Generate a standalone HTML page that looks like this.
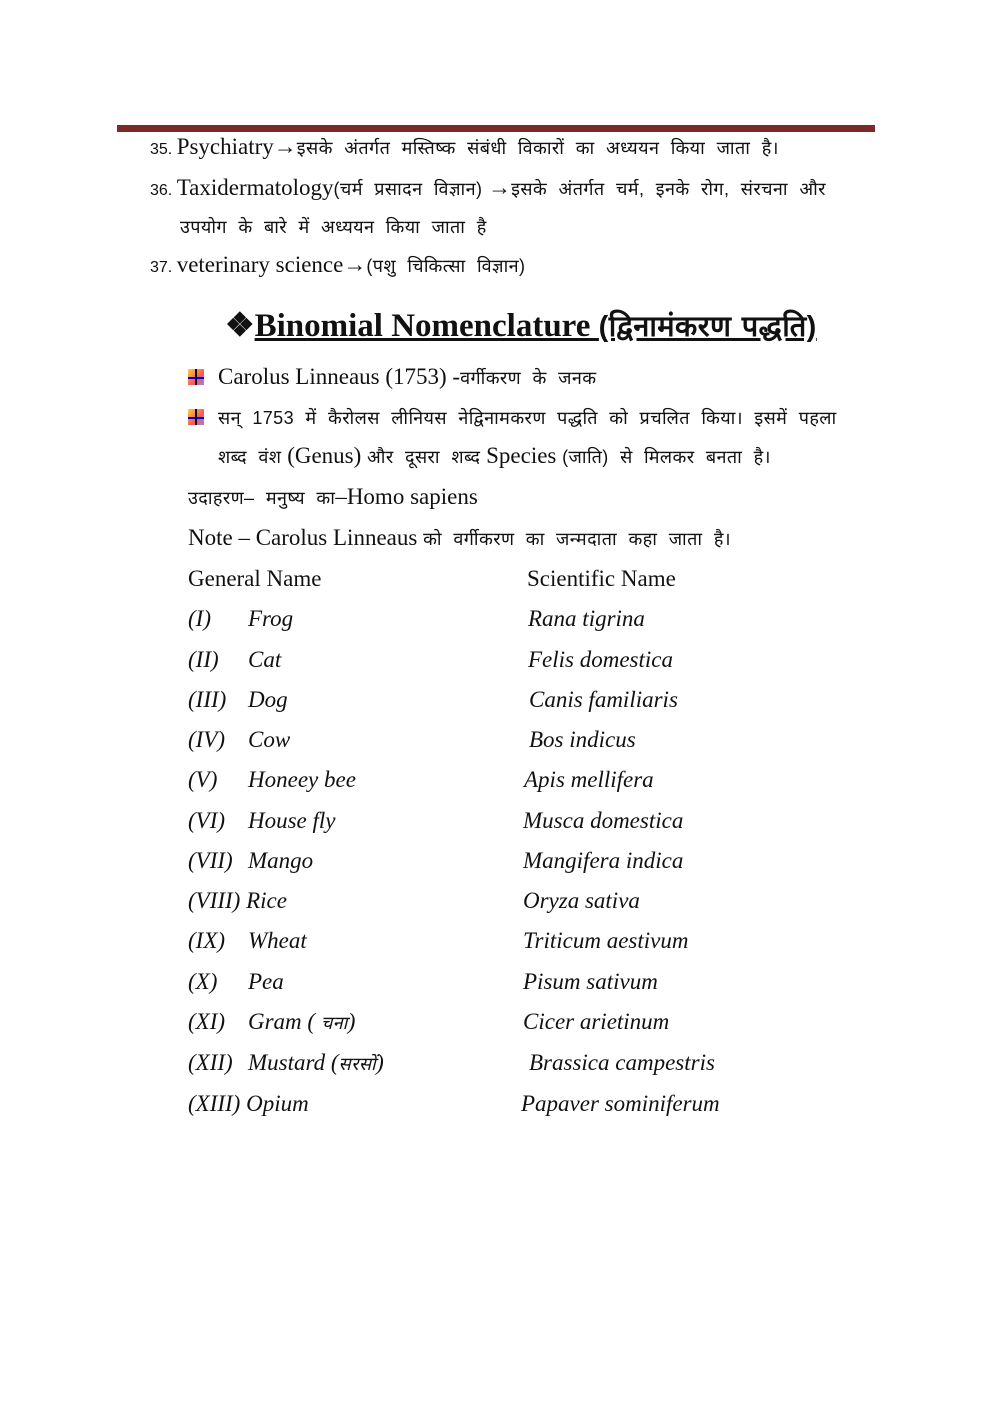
<!DOCTYPE html>
<html><head><meta charset="utf-8"><style>
body{margin:0;width:992px;height:1403px;background:#fff;position:relative;font-family:"Liberation Serif",serif;color:#111;}
.l{position:absolute;white-space:nowrap;font-size:23px;line-height:24px;}
.h{font-family:"Liberation Sans","Noto Sans CJK SC",sans-serif;font-size:18px;word-spacing:6px;letter-spacing:0.4px;}
.n{font-family:"Liberation Sans",sans-serif;font-size:16px;}
i{font-style:italic}
.bul{display:inline-block;width:16px;height:16px;position:relative;vertical-align:-1px;margin-right:14px;background:linear-gradient(135deg,#ffd23a,#f55 60%,#88f);}
.bul:before{content:"";position:absolute;left:7px;top:0;width:2px;height:16px;background:#000;}
.bul:after{content:"";position:absolute;left:0;top:8px;width:16px;height:2px;background:#00c;}
</style></head><body>
<div style="position:absolute;left:117px;top:125px;width:758px;height:7px;background:#7a2a2a"></div>
<div class="l" style="left:150px;top:135px"><span class="n">35. </span>Psychiatry→<span class="h">इसके अंतर्गत मस्तिष्क संबंधी विकारों का अध्ययन किया जाता है।</span></div>
<div class="l" style="left:150px;top:176px"><span class="n">36. </span>Taxidermatology<span class="h">(चर्म प्रसादन विज्ञान)</span> →<span class="h">इसके अंतर्गत चर्म, इनके रोग, संरचना और</span></div>
<div class="l" style="left:180px;top:214px"><span class="h">उपयोग के बारे में अध्ययन किया जाता है</span></div>
<div class="l" style="left:150px;top:253px"><span class="n">37. </span>veterinary science→<span class="h">(पशु चिकित्सा विज्ञान)</span></div>
<div class="l" style="left:225px;top:308px;font-size:33px;line-height:36px;font-weight:bold">❖<u>Binomial Nomenclature <span class="h" style="font-size:29px;word-spacing:2px">(द्विनामंकरण पद्धति)</span></u></div>
<div class="l" style="left:188px;top:365px"><span class="bul"></span>Carolus Linneaus (1753) -<span class="h">वर्गीकरण के जनक</span></div>
<div class="l" style="left:188px;top:405px"><span class="bul"></span><span class="h">सन् 1753 में कैरोलस लीनियस नेद्विनामकरण पद्धति को प्रचलित किया। इसमें पहला</span></div>
<div class="l" style="left:218px;top:444px"><span class="h">शब्द वंश</span> (Genus) <span class="h">और दूसरा शब्द</span> Species <span class="h">(जाति) से मिलकर बनता है।</span></div>
<div class="l" style="left:188px;top:485px"><span class="h">उदाहरण– मनुष्य का</span>–Homo sapiens</div>
<div class="l" style="left:188px;top:526px">Note – Carolus Linneaus <span class="h">को वर्गीकरण का जन्मदाता कहा जाता है।</span></div>
<div class="l" style="left:188px;top:567px">General Name</div>
<div class="l" style="left:527px;top:567px">Scientific Name</div>
<div class="l" style="left:188px;top:607px"><i>(I)</i></div><div class="l" style="left:248px;top:607px"><i>Frog</i></div><div class="l" style="left:528px;top:607px"><i>Rana tigrina</i></div>
<div class="l" style="left:188px;top:648px"><i>(II)</i></div><div class="l" style="left:248px;top:648px"><i>Cat</i></div><div class="l" style="left:528px;top:648px"><i>Felis domestica</i></div>
<div class="l" style="left:188px;top:688px"><i>(III)</i></div><div class="l" style="left:248px;top:688px"><i>Dog</i></div><div class="l" style="left:529px;top:688px"><i>Canis familiaris</i></div>
<div class="l" style="left:188px;top:728px"><i>(IV)</i></div><div class="l" style="left:248px;top:728px"><i>Cow</i></div><div class="l" style="left:529px;top:728px"><i>Bos indicus</i></div>
<div class="l" style="left:188px;top:768px"><i>(V)</i></div><div class="l" style="left:248px;top:768px"><i>Honeey bee</i></div><div class="l" style="left:524px;top:768px"><i>Apis mellifera</i></div>
<div class="l" style="left:188px;top:809px"><i>(VI)</i></div><div class="l" style="left:248px;top:809px"><i>House fly</i></div><div class="l" style="left:523px;top:809px"><i>Musca domestica</i></div>
<div class="l" style="left:188px;top:849px"><i>(VII)</i></div><div class="l" style="left:248px;top:849px"><i>Mango</i></div><div class="l" style="left:523px;top:849px"><i>Mangifera indica</i></div>
<div class="l" style="left:188px;top:889px"><i>(VIII) Rice</i></div><div class="l" style="left:523px;top:889px"><i>Oryza sativa</i></div>
<div class="l" style="left:188px;top:929px"><i>(IX)</i></div><div class="l" style="left:248px;top:929px"><i>Wheat</i></div><div class="l" style="left:523px;top:929px"><i>Triticum aestivum</i></div>
<div class="l" style="left:188px;top:970px"><i>(X)</i></div><div class="l" style="left:248px;top:970px"><i>Pea</i></div><div class="l" style="left:523px;top:970px"><i>Pisum sativum</i></div>
<div class="l" style="left:188px;top:1010px"><i>(XI)</i></div><div class="l" style="left:248px;top:1010px"><i>Gram ( <span class="h">चना</span>)</i></div><div class="l" style="left:523px;top:1010px"><i>Cicer arietinum</i></div>
<div class="l" style="left:188px;top:1051px"><i>(XII)</i></div><div class="l" style="left:248px;top:1051px"><i>Mustard (<span class="h">सरसों</span>)</i></div><div class="l" style="left:529px;top:1051px"><i>Brassica campestris</i></div>
<div class="l" style="left:188px;top:1092px"><i>(XIII) Opium</i></div><div class="l" style="left:521px;top:1092px"><i>Papaver sominiferum</i></div>
</body></html>
